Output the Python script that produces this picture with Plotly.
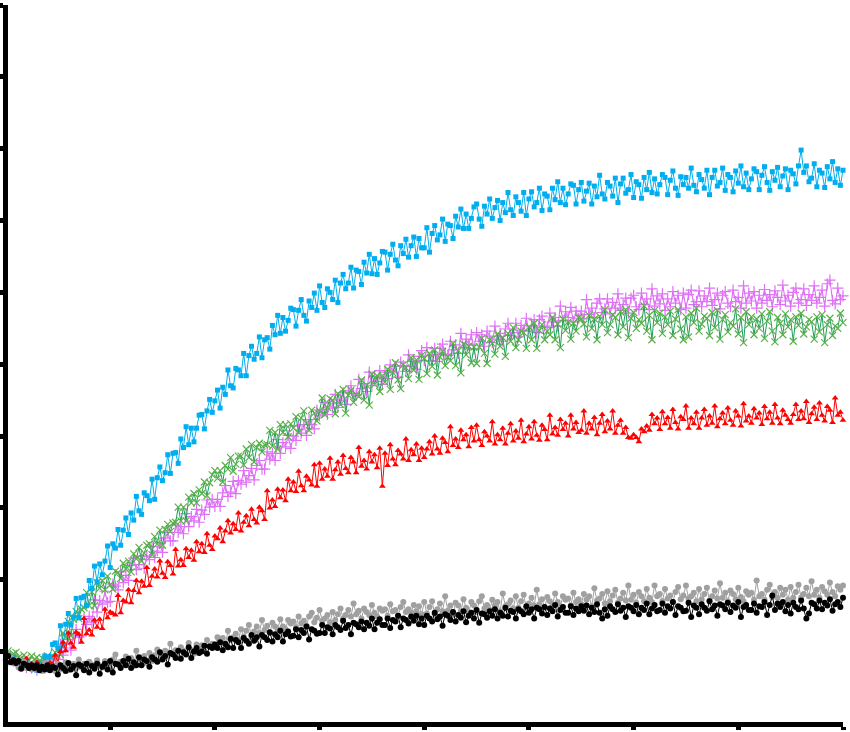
import plotly.graph_objects as go

# sampling times (hours): one reading every 0.025 h over 8 h
time_h = [round(i * 0.025, 3) for i in range(321)]

blue_vals = [
0.93,0.86,0.90,0.92,0.84,0.81,0.85,0.81,0.85,0.77,0.79,0.81,0.74,0.83,0.83,0.94,0.92,0.93,1.10,1.12,
1.05,1.36,1.08,1.38,1.53,1.37,1.48,1.74,1.47,1.75,1.77,1.64,1.99,1.88,2.19,1.97,2.22,2.07,2.26,2.47,
2.17,2.50,2.44,2.70,2.48,2.69,2.86,2.63,2.93,2.83,3.16,2.96,2.91,3.21,3.17,3.10,3.40,3.12,3.42,3.57,
3.38,3.49,3.74,3.48,3.76,3.77,3.62,3.96,3.84,4.13,3.88,4.11,3.92,4.11,4.29,4.30,4.10,4.35,4.51,4.33,
4.49,4.64,4.39,4.68,4.58,4.92,4.70,4.67,4.94,4.92,4.84,5.15,4.84,5.12,5.25,5.07,5.15,5.38,5.09,5.34,
5.37,5.21,5.54,5.41,5.68,5.43,5.65,5.46,5.61,5.78,5.76,5.53,5.75,5.90,5.68,5.60,5.88,5.79,5.99,5.75,
6.09,5.86,5.79,6.05,6.00,5.90,6.17,5.86,6.13,6.25,6.05,6.13,6.35,6.06,6.31,6.29,6.11,6.42,6.27,6.53,
6.26,6.47,6.25,6.41,6.57,6.56,6.31,6.53,6.67,6.45,6.37,6.65,6.54,6.74,6.49,6.65,6.77,6.50,6.75,6.62,
6.62,6.90,6.56,6.82,6.93,6.73,6.80,7.02,6.71,6.95,6.93,6.75,7.06,6.91,7.16,6.89,7.09,6.89,7.03,7.19,
7.23,7.02,6.92,7.20,7.09,7.30,7.03,7.18,7.28,7.00,7.25,7.11,7.39,7.15,7.07,7.33,7.25,7.13,7.39,7.07,
7.30,7.40,7.19,7.25,7.45,7.14,7.37,7.34,7.15,7.45,7.29,7.54,7.25,7.45,7.22,7.37,7.51,7.49,7.23,7.43,
7.53,7.27,7.41,7.52,7.23,7.48,7.33,7.63,7.37,7.30,7.53,7.48,7.34,7.59,7.25,7.51,7.59,7.38,7.43,7.64,
7.32,7.54,7.50,7.31,7.60,7.43,7.67,7.39,7.58,7.37,7.50,7.64,7.60,7.36,7.56,7.69,7.45,7.35,7.61,7.50,
7.60,7.45,7.73,7.49,7.40,7.64,7.57,7.45,7.70,7.36,7.60,7.70,7.48,7.53,7.73,7.42,7.64,7.60,7.40,7.69,
7.52,7.76,7.47,7.66,7.43,7.58,7.72,7.68,7.43,7.63,7.75,7.53,7.42,7.68,7.56,7.74,7.47,7.62,7.72,7.43,
7.70,7.65,7.51,7.76,7.98,7.67,7.76,7.54,7.59,7.79,7.47,7.70,7.66,7.46,7.75,7.58,7.82,7.53,7.72,7.49,
7.70]

violet_vals = [
0.93,0.88,0.93,0.87,0.88,0.81,0.86,0.82,0.78,0.85,0.77,0.79,0.74,0.80,0.81,0.77,0.80,0.87,0.83,0.91,
0.89,1.10,0.95,1.05,1.17,1.02,1.23,1.31,1.20,1.22,1.46,1.38,1.49,1.41,1.72,1.55,1.71,1.66,1.84,1.68,
1.70,1.94,1.91,1.86,2.11,1.96,2.06,1.99,2.20,2.30,2.14,2.21,2.33,2.16,2.33,2.28,2.46,2.31,2.40,2.51,
2.38,2.58,2.66,2.54,2.54,2.76,2.66,2.74,2.64,2.92,2.74,2.88,2.82,2.98,2.80,2.97,2.91,3.11,3.01,3.12,
3.02,3.12,3.02,3.21,3.31,3.16,3.22,3.37,3.20,3.38,3.33,3.52,3.36,3.45,3.55,3.39,3.59,3.66,3.54,3.54,
3.78,3.68,3.76,3.66,3.95,3.76,3.91,3.85,4.01,3.83,4.00,3.94,4.14,4.04,4.16,4.01,4.23,4.16,4.10,4.36,
4.28,4.33,4.47,4.30,4.45,4.39,4.58,4.40,4.50,4.60,4.44,4.63,4.70,4.59,4.57,4.79,4.66,4.73,4.62,4.89,
4.70,4.83,4.76,4.91,4.72,4.89,4.80,4.99,4.88,4.97,4.82,5.03,4.98,4.90,5.13,4.97,5.04,4.93,5.11,5.19,
5.05,5.23,5.05,5.13,5.22,5.04,5.22,5.28,5.14,5.12,5.32,5.20,5.27,5.15,5.43,5.23,5.35,5.27,5.41,5.21,
5.44,5.32,5.41,5.25,5.46,5.39,5.30,5.53,5.35,5.43,5.32,5.49,5.57,5.40,5.44,5.57,5.38,5.54,5.47,5.64,
5.46,5.53,5.62,5.44,5.62,5.67,5.53,5.51,5.71,5.59,5.65,5.53,5.81,5.61,5.73,5.65,5.79,5.59,5.74,5.64,
5.74,5.63,5.90,5.69,5.78,5.65,5.85,5.91,5.72,5.77,5.91,5.70,5.86,5.78,5.98,5.75,5.83,5.92,5.71,5.92,
5.96,5.80,5.76,5.99,5.83,5.91,5.76,6.05,5.81,5.95,5.84,5.98,5.75,5.91,5.80,6.01,5.85,5.96,5.76,5.99,
5.78,5.97,6.03,5.83,5.87,6.02,5.80,5.95,5.87,6.06,5.82,5.90,5.99,5.77,5.96,6.01,5.85,5.80,6.03,5.87,
5.93,5.78,6.09,5.85,5.99,5.88,6.01,5.78,5.96,5.85,6.04,5.89,5.97,5.80,6.02,5.93,5.83,6.10,5.88,5.96,
5.81,6.00,6.06,5.85,5.90,6.05,5.82,5.97,5.89,6.09,5.85,5.93,6.03,5.81,6.12,6.17,5.89,5.84,6.06,5.90,
5.95]

green_vals = [
0.97,1.01,0.92,0.97,0.99,0.92,0.87,0.95,0.92,0.88,0.94,0.89,0.92,0.84,0.91,0.89,0.94,0.88,0.92,0.99,
1.03,0.96,1.26,1.20,1.42,1.22,1.45,1.56,1.46,1.59,1.61,1.82,1.64,1.83,1.64,1.96,1.88,1.99,1.86,2.05,
1.93,1.87,2.12,2.10,2.02,2.23,2.15,2.26,2.11,2.36,2.29,2.45,2.26,2.37,2.48,2.50,2.35,2.60,2.50,2.69,
2.48,2.70,2.77,2.67,2.79,2.80,3.01,2.82,3.01,2.82,3.15,3.07,3.20,3.07,3.25,3.20,3.36,3.17,3.35,3.46,
3.52,3.41,3.52,3.36,3.59,3.54,3.70,3.51,3.61,3.72,3.72,3.60,3.82,3.70,3.88,3.64,3.84,3.90,3.78,3.88,
3.88,4.08,3.86,4.05,3.82,4.16,4.05,4.16,3.99,4.17,4.11,4.27,4.05,4.25,4.35,4.18,4.08,4.36,4.32,4.21,
4.35,4.53,4.30,4.40,4.52,4.50,4.31,4.59,4.44,4.65,4.32,4.57,4.64,4.47,4.58,4.55,4.78,4.50,4.71,4.43,
4.86,4.72,4.84,4.62,4.84,4.75,4.93,4.65,4.88,5.02,4.78,4.66,4.99,4.95,4.80,5.09,4.92,5.06,4.79,5.12,
5.08,4.87,5.15,4.97,5.20,4.85,5.10,5.18,4.98,5.10,5.05,5.29,4.98,5.19,4.88,5.28,5.13,5.25,5.02,5.24,
5.01,5.24,5.36,5.15,5.01,5.34,5.29,5.14,5.42,5.25,5.37,5.11,5.43,5.32,5.51,5.23,5.34,5.46,5.44,5.22,
5.52,5.34,5.57,5.22,5.47,5.55,5.34,5.46,5.41,5.65,5.34,5.56,5.23,5.63,5.47,5.59,5.35,5.57,5.46,5.65,
5.63,5.56,5.38,5.68,5.50,5.63,5.34,5.67,5.55,5.76,5.44,5.55,5.69,5.65,5.41,5.73,5.52,5.76,5.37,5.64,
5.72,5.50,5.62,5.57,5.81,5.46,5.68,5.34,5.75,5.58,5.71,5.43,5.66,5.55,5.74,5.40,5.63,5.76,5.49,5.34,
5.66,5.38,5.71,5.58,5.78,5.46,5.56,5.67,5.64,5.40,5.72,5.51,5.75,5.35,5.62,5.69,5.45,5.58,5.53,5.77,
5.42,5.65,5.30,5.73,5.55,5.66,5.41,5.63,5.50,5.70,5.36,5.60,5.73,5.46,5.31,5.65,5.57,5.41,5.70,5.52,
5.62,5.32,5.66,5.54,5.71,5.42,5.52,5.62,5.59,5.35,5.66,5.45,5.69,5.30,5.55,5.64,5.40,5.53,5.50,5.71,
5.58]

red_vals = [
0.90,0.85,0.93,0.86,0.82,0.88,0.85,0.83,0.90,0.80,0.83,0.80,0.85,0.77,0.81,0.85,0.79,0.84,0.82,0.95,
0.85,1.00,1.13,1.01,1.26,1.12,1.06,1.27,1.24,1.13,1.46,1.25,1.30,1.23,1.44,1.34,1.45,1.32,1.59,1.47,
1.55,1.53,1.51,1.78,1.54,1.71,1.69,1.86,1.68,1.85,1.99,1.82,1.98,1.91,2.17,1.92,2.05,2.15,2.04,2.26,
2.09,2.03,2.25,2.20,2.08,2.42,2.19,2.28,2.20,2.43,2.31,2.41,2.27,2.53,2.39,2.50,2.38,2.64,2.48,2.42,
2.61,2.57,2.72,2.53,2.68,2.82,2.65,2.78,2.70,2.93,2.68,2.80,2.89,2.75,2.98,2.84,2.79,3.01,2.96,2.84,
3.24,3.00,3.11,3.02,3.26,3.14,3.25,3.10,3.40,3.24,3.36,3.23,3.51,3.31,3.24,3.44,3.39,3.32,3.60,3.30,
3.62,3.40,3.54,3.44,3.69,3.40,3.53,3.64,3.47,3.73,3.55,3.49,3.70,3.64,3.49,3.84,3.58,3.66,3.54,3.78,
3.64,3.74,3.56,3.83,3.30,3.76,3.59,3.88,3.68,3.60,3.80,3.75,3.68,3.96,3.66,3.81,3.74,3.89,3.66,3.83,
3.70,3.82,3.92,3.75,4.00,3.82,3.76,3.97,3.91,3.78,4.13,3.87,3.96,3.84,4.08,3.95,4.02,3.85,4.12,3.93,
4.15,3.95,3.87,4.06,4.00,3.93,4.20,3.89,4.02,3.95,4.11,3.89,4.04,4.17,3.93,4.07,3.97,4.22,3.92,4.03,
4.13,3.96,4.20,4.01,3.94,4.15,4.09,3.95,4.29,4.03,4.12,4.01,4.23,4.09,4.18,4.00,4.29,4.10,4.19,4.05,
4.08,4.35,4.04,4.18,4.10,4.26,4.02,4.18,4.30,4.06,4.21,4.10,4.35,4.04,4.15,4.22,4.04,4.12,3.98,3.97,
4.02,3.98,3.92,4.10,4.06,4.14,4.08,4.30,4.17,4.25,4.09,4.34,4.17,4.26,4.11,4.37,4.19,4.10,4.27,4.23,
4.42,4.11,4.25,4.17,4.33,4.11,4.25,4.37,4.15,4.28,4.18,4.42,4.13,4.24,4.32,4.17,4.39,4.22,4.15,4.35,
4.28,4.14,4.45,4.21,4.28,4.18,4.38,4.25,4.32,4.16,4.41,4.24,4.33,4.18,4.44,4.25,4.17,4.36,4.29,4.23,
4.18,4.30,4.44,4.23,4.35,4.24,4.48,4.19,4.31,4.40,4.23,4.46,4.29,4.21,4.41,4.36,4.19,4.53,4.29,4.33,
4.22]

gray_vals = [
0.93,0.86,0.92,0.84,0.83,0.78,0.83,0.86,0.77,0.79,0.75,0.81,0.76,0.79,0.73,0.84,0.75,0.77,0.79,0.73,
0.83,0.75,0.80,0.85,0.74,0.78,0.83,0.77,0.89,0.78,0.83,0.76,0.86,0.82,0.78,0.88,0.81,0.78,0.87,0.84,
0.77,0.89,0.96,0.82,0.86,0.81,0.93,0.86,0.91,0.80,1.01,0.86,0.89,0.94,0.84,0.98,0.87,0.95,1.03,0.89,
0.94,1.01,0.93,1.11,0.97,1.02,0.92,1.06,1.01,0.97,1.12,1.02,0.97,1.10,1.06,1.09,1.01,1.16,1.08,1.11,
1.08,1.20,1.13,1.19,1.09,1.29,1.16,1.20,1.25,1.16,1.31,1.21,1.29,1.37,1.21,1.28,1.35,1.26,1.44,1.30,
1.36,1.26,1.40,1.35,1.31,1.45,1.35,1.31,1.44,1.39,1.42,1.34,1.49,1.39,1.43,1.36,1.49,1.54,1.41,1.47,
1.58,1.43,1.46,1.51,1.41,1.55,1.44,1.52,1.60,1.46,1.51,1.58,1.49,1.67,1.52,1.57,1.46,1.60,1.55,1.51,
1.65,1.54,1.49,1.60,1.57,1.59,1.50,1.66,1.56,1.58,1.50,1.62,1.69,1.55,1.59,1.54,1.65,1.56,1.63,1.52,
1.69,1.53,1.62,1.70,1.52,1.59,1.67,1.56,1.77,1.57,1.64,1.51,1.68,1.64,1.56,1.73,1.61,1.55,1.69,1.64,
1.55,1.70,1.77,1.60,1.65,1.58,1.72,1.64,1.69,1.56,1.81,1.63,1.66,1.71,1.60,1.77,1.61,1.70,1.79,1.61,
1.67,1.75,1.64,1.86,1.66,1.73,1.61,1.76,1.70,1.65,1.81,1.69,1.63,1.77,1.72,1.74,1.64,1.82,1.69,1.73,
1.66,1.80,1.72,1.77,1.63,1.88,1.71,1.74,1.80,1.67,1.84,1.70,1.78,1.86,1.68,1.74,1.82,1.71,1.92,1.72,
1.79,1.68,1.83,1.77,1.70,1.87,1.75,1.69,1.92,1.77,1.80,1.70,1.87,1.74,1.78,1.69,1.83,1.90,1.73,1.78,
1.92,1.74,1.77,1.82,1.70,1.87,1.73,1.80,1.89,1.71,1.77,1.85,1.74,1.95,1.75,1.82,1.70,1.85,1.80,1.73,
1.89,1.76,1.70,1.84,1.79,1.82,1.72,1.99,1.77,1.80,1.72,1.86,1.93,1.76,1.83,1.75,1.89,1.79,1.86,1.72,
1.90,1.75,1.83,1.93,1.75,1.80,1.89,1.77,1.98,1.79,1.86,1.75,1.90,1.84,1.79,1.96,1.83,1.77,1.91,1.86,
1.92]

black_vals = [
0.91,0.94,0.85,0.88,0.84,0.87,0.76,0.83,0.81,0.77,0.81,0.77,0.81,0.74,0.79,0.75,0.81,0.74,0.79,0.77,
0.68,0.81,0.77,0.73,0.84,0.75,0.80,0.67,0.82,0.80,0.74,0.83,0.71,0.80,0.76,0.83,0.69,0.79,0.83,0.75,
0.87,0.71,0.83,0.82,0.77,0.87,0.81,0.90,0.77,0.85,0.81,0.92,0.81,0.89,0.87,0.79,0.92,0.89,0.86,0.99,
0.89,0.94,0.82,0.98,0.96,0.91,1.01,0.90,0.99,0.96,1.06,0.91,1.00,1.05,0.98,1.00,1.08,0.97,1.07,1.05,
1.10,1.05,1.13,1.02,1.11,1.06,1.18,1.05,1.16,1.13,1.05,1.19,1.15,1.11,1.23,1.15,1.20,1.07,1.23,1.20,
1.16,1.27,1.14,1.24,1.20,1.29,1.14,1.24,1.28,1.21,1.22,1.31,1.20,1.30,1.26,1.35,1.17,1.31,1.29,1.25,
1.26,1.37,1.26,1.34,1.32,1.24,1.37,1.34,1.30,1.43,1.33,1.37,1.24,1.40,1.38,1.34,1.42,1.31,1.40,1.36,
1.46,1.31,1.40,1.45,1.37,1.37,1.46,1.33,1.44,1.42,1.50,1.34,1.46,1.44,1.39,1.49,1.43,1.50,1.38,1.46,
1.37,1.50,1.46,1.42,1.54,1.45,1.49,1.36,1.52,1.50,1.44,1.55,1.42,1.51,1.47,1.56,1.41,1.50,1.54,1.46,
1.58,1.40,1.53,1.52,1.47,1.56,1.50,1.59,1.46,1.54,1.50,1.61,1.49,1.57,1.55,1.46,1.59,1.56,1.52,1.63,
1.54,1.59,1.46,1.61,1.59,1.53,1.62,1.51,1.60,1.56,1.65,1.49,1.58,1.62,1.54,1.54,1.63,1.51,1.60,1.56,
1.63,1.57,1.64,1.52,1.61,1.55,1.66,1.54,1.46,1.59,1.50,1.63,1.59,1.55,1.66,1.57,1.61,1.48,1.63,1.61,
1.56,1.65,1.52,1.61,1.58,1.67,1.52,1.60,1.65,1.56,1.58,1.67,1.54,1.63,1.60,1.69,1.51,1.63,1.61,1.56,
1.57,1.68,1.48,1.64,1.61,1.52,1.66,1.61,1.57,1.70,1.59,1.64,1.50,1.66,1.64,1.59,1.68,1.55,1.64,1.61,
1.69,1.48,1.62,1.65,1.58,1.58,1.67,1.54,1.63,1.62,1.69,1.51,1.65,1.78,1.58,1.67,1.62,1.69,1.56,1.65,
1.53,1.68,1.62,1.59,1.71,1.60,1.46,1.53,1.68,1.66,1.60,1.71,1.59,1.68,1.64,1.73,1.57,1.66,1.69,1.62,
1.75]

x_ticks = [0, 1, 2, 3, 4, 5, 6, 7, 8]
y_ticks = [0, 1, 2, 3, 4, 5, 6, 7, 8, 9, 10]

series = [
    ("violet", violet_vals, "#E070F8", "#D966F0", "cross-thin", 8, 1.2),
    ("green", green_vals, "#5BB04A", "#1E9E5A", "x-thin", 7, 1.2),
    ("blue", blue_vals, "#00AEEF", "#00AEEF", "square", 5, 0),
    ("red", red_vals, "#FF0000", "#FF0000", "triangle-up", 6, 0),
    ("gray", gray_vals, "#A0A0A0", "#A0A0A0", "circle", 6, 0),
    ("black", black_vals, "#000000", "#000000", "circle", 6, 0),
]

fig = go.Figure()
for name, vals, mcol, lcol, sym, size, mlw in series:
    marker = dict(symbol=sym, size=size, color=mcol)
    if mlw:
        marker["line"] = dict(color=mcol, width=mlw)
    fig.add_trace(go.Scatter(
        x=time_h, y=vals, mode="lines+markers", name=name,
        line=dict(color=lcol, width=1),
        marker=marker, cliponaxis=False, showlegend=False,
    ))

axis_common = dict(
    showgrid=False, zeroline=False, showline=True, linecolor="black", linewidth=5,
    ticks="outside", ticklen=3, tickwidth=5, tickcolor="black", showticklabels=False,
    automargin=False,
)
fig.update_xaxes(range=[0.024, 8.0], tickvals=x_ticks, **axis_common)
fig.update_yaxes(range=[0.02, 10.0], tickvals=y_ticks, **axis_common)
fig.update_layout(
    width=850, height=732,
    margin=dict(l=8, r=7, t=5, b=10, pad=0),
    paper_bgcolor="white", plot_bgcolor="white",
    hovermode=False,
)
fig.write_html(
    "out.html",
    config={"displayModeBar": False},
    post_script="document.body.style.margin='0';document.body.style.overflow='hidden';",
)
